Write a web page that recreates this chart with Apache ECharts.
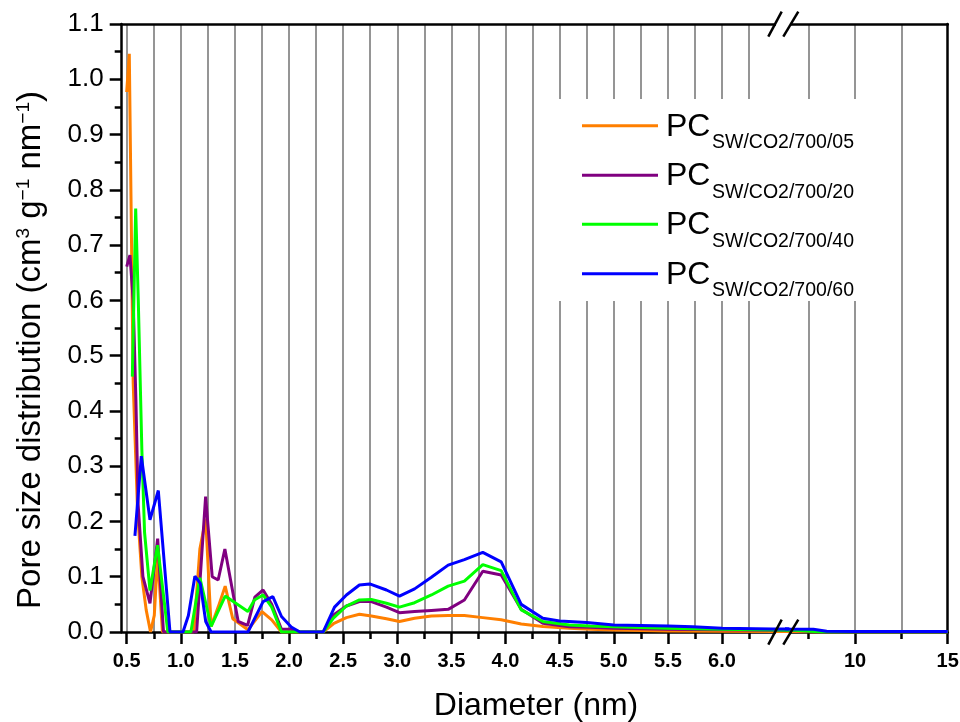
<!DOCTYPE html>
<html><head><meta charset="utf-8">
<script src="https://cdn.jsdelivr.net/npm/echarts@6/dist/echarts.min.js"></script>
<style>html,body{margin:0;padding:0;background:#fff}#c{width:960px;height:722px}</style>
</head><body><div id="c"></div>
<script>
// ---- data ----
const diam05 = [0.50,0.524,0.56,0.60,0.64,0.68,0.72,0.755,0.786,0.83,1.12,1.176,1.23,1.28,1.345,1.41,1.48,1.62,1.75,1.84,1.93,2.315,2.41,2.53,2.65,2.76,2.9,3.02,3.16,3.315,3.47,3.62,3.79,3.96,4.145,4.345,4.59,4.78,5.0,5.5,6.0,6.5,8.0,10,15];
const psd05  = [0.977,1.046,0.45,0.22,0.10,0.04,0.0,0.03,0.14,0.0,0.0,0.15,0.205,0.01,0.045,0.083,0.024,0.004,0.037,0.022,0.0,0.0,0.015,0.026,0.032,0.029,0.024,0.019,0.025,0.029,0.030,0.030,0.026,0.022,0.0145,0.010,0.0066,0.005,0.0036,0.002,0.0015,0.001,0.0,0.0,0.0];

const diam20 = [0.50,0.53,0.56,0.585,0.606,0.65,0.715,0.786,0.84,1.146,1.229,1.29,1.345,1.407,1.53,1.617,1.684,1.76,1.84,1.93,2.02,2.10,2.315,2.41,2.53,2.65,2.76,2.9,3.02,3.16,3.315,3.47,3.62,3.79,3.96,4.145,4.345,4.59,4.78,5.0,5.5,6.0,6.5,8.0,10,15];
const psd20  = [0.661,0.682,0.60,0.42,0.23,0.10,0.052,0.169,0.0,0.0,0.245,0.10,0.094,0.15,0.019,0.012,0.063,0.076,0.05,0.005,0.005,0.0,0.0,0.031,0.047,0.055,0.055,0.045,0.035,0.037,0.039,0.041,0.058,0.110,0.103,0.041,0.0157,0.0096,0.0085,0.007,0.005,0.004,0.003,0.001,0.0,0.0];

const diam40 = [0.552,0.583,0.607,0.64,0.665,0.715,0.785,0.88,1.093,1.176,1.28,1.41,1.62,1.68,1.76,1.84,1.93,2.315,2.41,2.53,2.65,2.76,2.9,3.02,3.16,3.315,3.47,3.62,3.79,3.96,4.145,4.345,4.59,4.78,5.0,5.5,6.0,6.5,8.27,10,15];
const psd40  = [0.462,0.766,0.60,0.33,0.18,0.075,0.157,0.0,0.0,0.098,0.01,0.065,0.037,0.058,0.067,0.045,0.0,0.0,0.025,0.047,0.058,0.059,0.052,0.045,0.053,0.067,0.083,0.092,0.122,0.111,0.040,0.019,0.0127,0.011,0.0096,0.007,0.005,0.0036,0.0,0.0,0.0];

const diam60 = [0.576,0.635,0.715,0.792,0.90,1.02,1.07,1.13,1.18,1.23,1.28,1.62,1.76,1.85,1.93,2.02,2.10,2.315,2.42,2.53,2.65,2.745,2.9,3.02,3.16,3.315,3.47,3.62,3.79,3.96,4.145,4.345,4.5,4.75,5.0,5.5,5.73,6.0,6.47,7.75,8.47,10,15];
const psd60  = [0.174,0.318,0.203,0.256,0.0,0.0,0.03,0.101,0.088,0.019,0.0,0.0,0.055,0.064,0.028,0.009,0.0,0.0,0.045,0.067,0.085,0.087,0.076,0.065,0.078,0.099,0.121,0.131,0.144,0.127,0.05,0.025,0.020,0.017,0.0127,0.011,0.0096,0.0066,0.0054,0.0048,0.0012,0.001,0.001];

const seriesNames = ['SW/CO2/700/05','SW/CO2/700/20','SW/CO2/700/40','SW/CO2/700/60'];
const seriesColors = ['#FF7F00','#800080','#00FF00','#0000FF'];

// axis ticks / labels
const xMajor1 = [0.5,1.0,1.5,2.0,2.5,3.0,3.5,4.0,4.5,5.0,5.5,6.0];
const xGrid1  = [0.5,0.75,1.0,1.25,1.5,1.75,2.0,2.25,2.5,2.75,3.0,3.25,3.5,3.75,4.0,4.25,4.5,4.75,5.0,5.25,5.5,5.75,6.0,6.25];
const xMajor2 = [10,15];
const xGrid2  = [7.5,10,12.5];

const FONT = "'Liberation Sans', Arial, sans-serif";
const X1MIN = 0.4538, X1MAX = 6.596, X2MIN = 6.3, X2MAX = 15;
const Y_MIN = 0, Y_MAX = 1.1;

const pairs = [
  diam05.map((d,i)=>[d,psd05[i]]),
  diam20.map((d,i)=>[d,psd20[i]]),
  diam40.map((d,i)=>[d,psd40[i]]),
  diam60.map((d,i)=>[d,psd60[i]])
];

const black = '#000';
const axisLine = {show:true, lineStyle:{color:black, width:2.5}};
const series = [];
for (let g = 0; g < 2; g++) {
  for (let i = 0; i < 4; i++) {
    series.push({
      type:'line', name: seriesNames[i],
      xAxisIndex: g === 0 ? 0 : 3, yAxisIndex: g,
      data: pairs[i], showSymbol:false, symbol:'none', clip:true,
      lineStyle:{color:seriesColors[i], width:3}, itemStyle:{color:seriesColors[i]},
      z: 2 + i*0.01, silent:true
    });
  }
}

const graphic = [];
// legend background
graphic.push({type:'rect', shape:{x:553,y:99,width:332,height:202}, style:{fill:'#fff'}, z:1, silent:true});
const rowY = [125.7,175.3,224.3,273.7];
for (let i = 0; i < 4; i++) {
  graphic.push({type:'line', shape:{x1:582,y1:rowY[i],x2:658,y2:rowY[i]}, style:{stroke:seriesColors[i], lineWidth:3}, z:5});
  graphic.push({type:'text', x:666, y:rowY[i]+1, style:{text:'PC', font:'32px '+FONT, fill:'#000', verticalAlign:'middle', align:'left'}, z:5});
  graphic.push({type:'text', x:712, y:rowY[i]+17, style:{text:seriesNames[i], font:'19.5px '+FONT, fill:'#000', verticalAlign:'middle', align:'left'}, z:5});
}
// axis break gaps and marks
graphic.push({type:'rect', shape:{x:776,y:21,width:14,height:6}, style:{fill:'#fff'}, z:1});
graphic.push({type:'rect', shape:{x:776,y:630.6,width:14,height:3.4}, style:{fill:'#fff'}, z:1});
[[24],[632]].forEach(([cy])=>{
  graphic.push({type:'line', shape:{x1:768.3,y1:cy+12.7,x2:781.7,y2:cy-12.3}, style:{stroke:'#000', lineWidth:2.5}, z:10});
  graphic.push({type:'line', shape:{x1:783.3,y1:cy+12.7,x2:798.3,y2:cy-12.3}, style:{stroke:'#000', lineWidth:2.5}, z:10});
});
// axis titles
graphic.push({type:'text', x:536, y:706, style:{text:'Diameter (nm)', font:'32px '+FONT, fill:'#000', align:'center', verticalAlign:'middle'}, z:5});
graphic.push({type:'text', x:31, y:350, rotation:Math.PI/2,
  style:{text:'{n|Pore size distribution (cm}{s|3}{n| g}{s|−1}{n| nm}{s|−1}{n|)}',
    align:'center', verticalAlign:'middle', fill:'#000',
    rich:{
      n:{fontSize:33, fontFamily:FONT, fill:'#000'},
      s:{fontSize:19, fontFamily:FONT, fill:'#000', verticalAlign:'top'}
    }}, z:5});

const option = {
  animation:false,
  backgroundColor:'#fff',
  textStyle:{fontFamily:FONT},
  grid:[
    {left:121.7, top:24, width:664.8, height:608, outerBoundsMode:'none', containLabel:false},
    {left:786.5, top:24, width:161.2, height:608, outerBoundsMode:'none', containLabel:false}
  ],
  xAxis:[
    {gridIndex:0, type:'value', min:X1MIN, max:X1MAX, position:'bottom',
     axisLine:axisLine,
     axisTick:{show:true, customValues:xMajor1, length:12, inside:false, lineStyle:{color:black,width:2.5}},
     axisLabel:{show:true, customValues:xMajor1, formatter:v=>Number(v).toFixed(1), fontSize:20, fontWeight:'bold', color:'#000', margin:19, fontFamily:FONT},
     splitLine:{show:false}},
    {gridIndex:0, type:'value', min:X1MIN, max:X1MAX, position:'bottom',
     axisLine:{show:false},
     axisTick:{show:true, customValues:xGrid1, length:7, inside:false, lineStyle:{color:black,width:2.5}},
     axisLabel:{show:false},
     splitLine:{show:true, lineStyle:{color:'#959595', width:2}}},
    {gridIndex:0, type:'value', min:X1MIN, max:X1MAX, position:'top',
     axisLine:axisLine, axisTick:{show:false}, axisLabel:{show:false}, splitLine:{show:false}},
    {gridIndex:1, type:'value', min:X2MIN, max:X2MAX, position:'bottom',
     axisLine:axisLine,
     axisTick:{show:true, customValues:xMajor2, length:12, inside:false, lineStyle:{color:black,width:2.5}},
     axisLabel:{show:true, customValues:xMajor2, formatter:v=>String(v), fontSize:20, fontWeight:'bold', color:'#000', margin:19, fontFamily:FONT},
     splitLine:{show:false}},
    {gridIndex:1, type:'value', min:X2MIN, max:X2MAX, position:'bottom',
     axisLine:{show:false},
     axisTick:{show:true, customValues:xGrid2, length:7, inside:false, lineStyle:{color:black,width:2.5}},
     axisLabel:{show:false},
     splitLine:{show:true, lineStyle:{color:'#959595', width:2}}},
    {gridIndex:1, type:'value', min:X2MIN, max:X2MAX, position:'top',
     axisLine:axisLine, axisTick:{show:false}, axisLabel:{show:false}, splitLine:{show:false}}
  ],
  yAxis:[
    {gridIndex:0, type:'value', min:Y_MIN, max:Y_MAX, interval:0.1, position:'left',
     axisLine:axisLine,
     axisTick:{show:true, length:12, inside:false, lineStyle:{color:black,width:2.5}},
     minorTick:{show:true, splitNumber:2, length:7, lineStyle:{color:black,width:2.5}},
     axisLabel:{show:true, formatter:v=>Number(v).toFixed(1), fontSize:26, color:'#000', margin:18, fontFamily:FONT},
     splitLine:{show:false}},
    {gridIndex:1, type:'value', min:Y_MIN, max:Y_MAX, interval:0.1, position:'right',
     axisLine:axisLine, axisTick:{show:false}, axisLabel:{show:false}, splitLine:{show:false}}
  ],
  series: series,
  graphic: graphic
};
const chart = echarts.init(document.getElementById('c'), null, {renderer:'canvas'});
chart.setOption(option);
</script></body></html>
